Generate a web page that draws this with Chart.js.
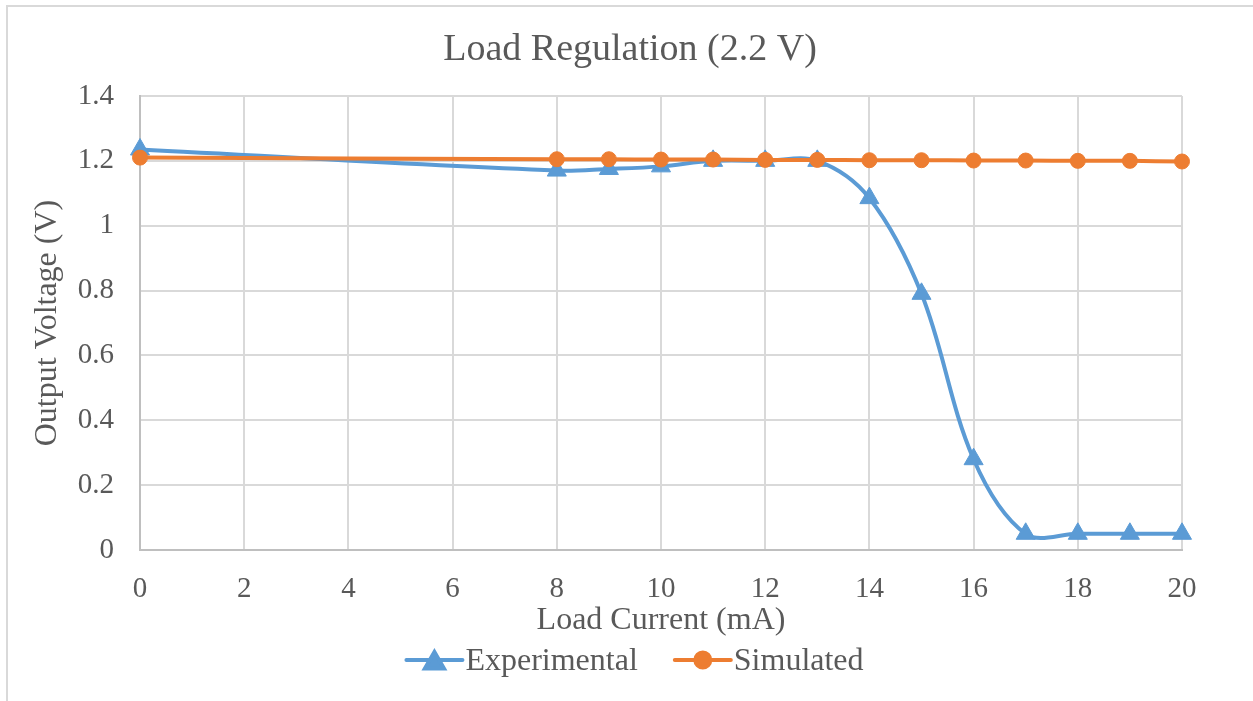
<!DOCTYPE html>
<html>
<head>
<meta charset="utf-8">
<script src="https://cdn.jsdelivr.net/npm/chart.js@4.4.1/dist/chart.umd.min.js"></script>
<style>
  html, body { margin: 0; padding: 0; background: #ffffff; width: 1253px; height: 701px; overflow: hidden; }
  #frame { position: absolute; left: 6px; top: 5px; width: 1300px; height: 750px;
           border-left: 2px solid #d9d9d9; border-top: 2px solid #d9d9d9; box-sizing: border-box; }
  #c { position: absolute; left: 0; top: 0; }
</style>
</head>
<body>
<div id="frame"></div>
<canvas id="c" width="1253" height="701"></canvas>
<script>
// ---- Data ----
const chartTitle = 'Load Regulation (2.2 V)';
const xAxisTitle = 'Load Current (mA)';
const yAxisTitle = 'Output Voltage (V)';
const loadCurrent = [0, 8, 9, 10, 11, 12, 13, 14, 15, 16, 17, 18, 19, 20];
const experimental = [1.235, 1.17, 1.175, 1.183, 1.2, 1.2, 1.2, 1.085, 0.79, 0.28, 0.05, 0.05, 0.05, 0.05];
const simulated = [1.21, 1.205, 1.205, 1.204, 1.204, 1.203, 1.203, 1.202, 1.202, 1.201, 1.201, 1.2, 1.2, 1.198];
const seriesNames = ['Experimental', 'Simulated'];
const xTicks = [0, 2, 4, 6, 8, 10, 12, 14, 16, 18, 20];
const yTicks = [0, 0.2, 0.4, 0.6, 0.8, 1, 1.2, 1.4];

const BLUE = '#5B9BD5';
const ORANGE = '#ED7D31';
const TEXT = '#595959';
const FONT = "'Liberation Serif', 'Times New Roman', serif";

const toPoints = (xs, ys) => xs.map((x, i) => ({ x: x, y: ys[i] }));

const decorPlugin = {
  id: 'excelDecor',
  afterDraw(chart) {
    const ctx = chart.ctx;
    ctx.save();
    // Title
    ctx.font = '38px ' + FONT;
    ctx.fillStyle = TEXT;
    ctx.textAlign = 'center';
    ctx.textBaseline = 'middle';
    ctx.fillText(chartTitle, 630, 50);

    // Legend
    const ds = chart.data.datasets;
    const fontSize = 32;
    ctx.font = fontSize + 'px ' + FONT;
    const lineLen = 60, gap = 35;
    const items = ds.map(d => ({ d, tw: ctx.measureText(d.label).width }));
    let total = 0;
    items.forEach((it, i) => { total += lineLen + 1 + it.tw + (i < items.length - 1 ? gap : 0); });
    let x = 634 - total / 2;
    const y = 660;
    items.forEach((it) => {
      const d = it.d;
      ctx.strokeStyle = d.borderColor;
      ctx.lineWidth = 4;
      ctx.lineCap = 'round';
      ctx.beginPath();
      ctx.moveTo(x + 2, y);
      ctx.lineTo(x + lineLen - 2, y);
      ctx.stroke();
      ctx.fillStyle = d.pointBackgroundColor;
      ctx.strokeStyle = d.pointBorderColor;
      Chart.helpers.drawPoint(ctx, {
        pointStyle: d.pointStyle,
        radius: d.pointStyle === 'triangle' ? 11 : 7.5,
        rotation: 0,
        borderWidth: 1
      }, x + lineLen / 2, d.pointStyle === 'triangle' ? y + 3 : y);
      ctx.fillStyle = TEXT;
      ctx.textAlign = 'left';
      ctx.textBaseline = 'middle';
      ctx.fillText(d.label, x + lineLen + 1, y + 2);
      x += lineLen + 1 + it.tw + gap;
    });
    ctx.restore();
  }
};

new Chart(document.getElementById('c'), {
  type: 'line',
  data: {
    datasets: [
      {
        label: seriesNames[0],
        data: toPoints(loadCurrent, experimental),
        borderColor: BLUE,
        backgroundColor: BLUE,
        pointBackgroundColor: BLUE,
        pointBorderColor: BLUE,
        pointStyle: 'triangle',
        pointRadius: 11,
        pointBorderWidth: 1,
        borderWidth: 4,
        tension: 0.35,
        fill: false,
        clip: false,
        order: 1
      },
      {
        label: seriesNames[1],
        data: toPoints(loadCurrent, simulated),
        borderColor: ORANGE,
        backgroundColor: ORANGE,
        pointBackgroundColor: ORANGE,
        pointBorderColor: ORANGE,
        pointStyle: 'circle',
        pointRadius: 7.5,
        pointBorderWidth: 1,
        borderWidth: 4,
        tension: 0.35,
        fill: false,
        clip: false,
        order: 0
      }
    ]
  },
  options: {
    responsive: false,
    animation: false,
    events: [],
    layout: { padding: { left: 28, right: 71, top: 96, bottom: 61 } },
    plugins: {
      legend: { display: false },
      tooltip: { enabled: false },
      title: { display: false }
    },
    scales: {
      x: {
        type: 'linear',
        min: xTicks[0],
        max: xTicks[xTicks.length - 1],
        afterBuildTicks(scale) { scale.ticks = xTicks.map(v => ({ value: v })); },
        afterFit(scale) { scale.height = 90; },
        grid: { color: '#d9d9d9', lineWidth: 2, drawTicks: false },
        border: { color: '#bfbfbf', width: 2 },
        ticks: {
          color: TEXT,
          padding: 22,
          font: { family: FONT, size: 29 },
          maxRotation: 0,
          autoSkip: false
        },
        title: {
          display: true,
          text: xAxisTitle,
          color: TEXT,
          font: { family: FONT, size: 32 },
          padding: { top: 0, bottom: 0 }
        }
      },
      y: {
        type: 'linear',
        min: yTicks[0],
        max: yTicks[yTicks.length - 1],
        afterBuildTicks(scale) { scale.ticks = yTicks.map(v => ({ value: v })); },
        afterFit(scale) { scale.width = 112; },
        grid: { color: '#d9d9d9', lineWidth: 2, drawTicks: false },
        border: { color: '#bfbfbf', width: 2 },
        ticks: {
          color: TEXT,
          padding: 26,
          font: { family: FONT, size: 29 },
          callback: (v) => String(Math.round(v * 10) / 10)
        },
        title: {
          display: true,
          text: yAxisTitle,
          color: TEXT,
          font: { family: FONT, size: 32 },
          padding: { top: 0, bottom: 0 }
        }
      }
    }
  },
  plugins: [decorPlugin]
});
</script>
</body>
</html>
